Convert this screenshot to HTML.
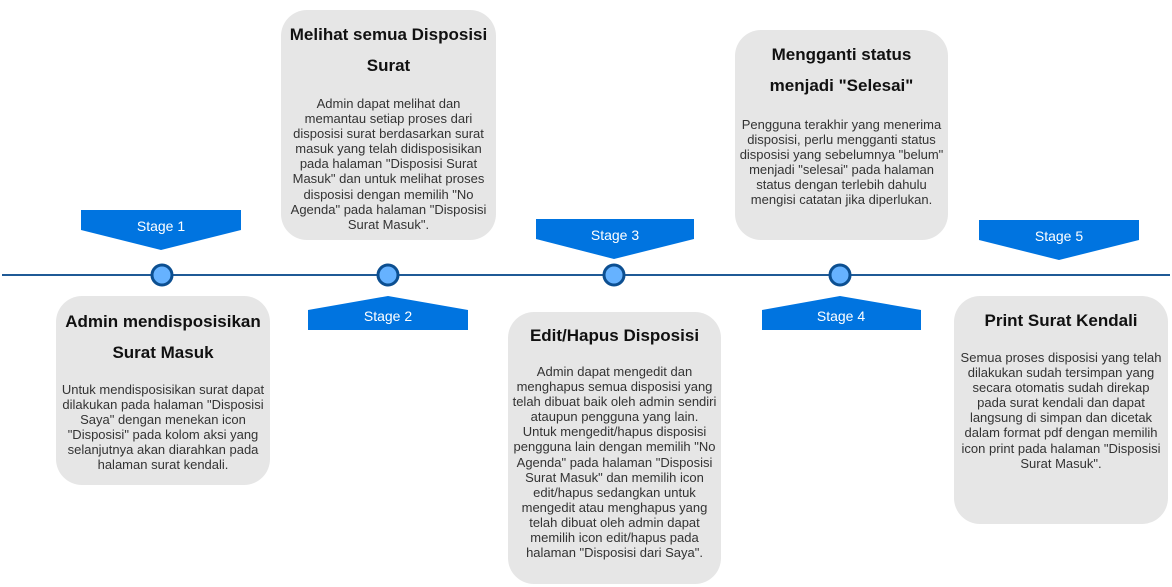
<!DOCTYPE html>
<html><head><meta charset="utf-8"><style>
body{margin:0;width:1172px;height:587px;background:#fff;position:relative;overflow:hidden;font-family:"Liberation Sans",Arial,sans-serif;}
.box{position:absolute;background:#e6e6e6;border-radius:26px;text-align:center;color:#222;}
.t{position:absolute;left:-10px;right:-10px;font-weight:bold;font-size:17px;line-height:31px;color:#111;}
.b{position:absolute;left:-10px;right:-10px;font-size:13px;line-height:15.1px;color:#333;}
.st{position:absolute;color:#fff;font-size:14px;text-align:center;width:160px;}
</style></head><body>
<svg width="1172" height="587" style="position:absolute;left:0;top:0">
<line x1="2" y1="275" x2="1170" y2="275" stroke="#1f5a96" stroke-width="2"/>
<polygon points="81,210 241,210 241,230 161,250 81,230" fill="#0074e0"/>
<polygon points="308,310 388,296 468,310 468,330 308,330" fill="#0074e0"/>
<polygon points="536,219 694,219 694,239 614,259 536,239" fill="#0074e0"/>
<polygon points="762,310 840,296 921,310 921,330 762,330" fill="#0074e0"/>
<polygon points="979,220 1139,220 1139,240 1059,260 979,240" fill="#0074e0"/>
<g fill="#66b2ff" stroke="#0c4f91" stroke-width="3">
<circle cx="162" cy="275" r="10"/><circle cx="388" cy="275" r="10"/><circle cx="614" cy="275" r="10"/><circle cx="840" cy="275" r="10"/>
</g>
</svg>
<div class="st" style="left:81px;top:218px">Stage 1</div>
<div class="st" style="left:308px;top:308px">Stage 2</div>
<div class="st" style="left:535px;top:227px">Stage 3</div>
<div class="st" style="left:761px;top:308px">Stage 4</div>
<div class="st" style="left:979px;top:228px">Stage 5</div>

<div class="box" style="left:56px;top:296px;width:214px;height:189px">
<div class="t" style="top:10px">Admin mendisposisikan<br>Surat Masuk</div>
<div class="b" style="top:86px">Untuk mendisposisikan surat dapat<br>dilakukan pada halaman "Disposisi<br>Saya" dengan menekan icon<br>"Disposisi" pada kolom aksi yang<br>selanjutnya akan diarahkan pada<br>halaman surat kendali.</div>
</div>
<div class="box" style="left:281px;top:10px;width:215px;height:230px">
<div class="t" style="top:9px">Melihat semua Disposisi<br>Surat</div>
<div class="b" style="top:86px">Admin dapat melihat dan<br>memantau setiap proses dari<br>disposisi surat berdasarkan surat<br>masuk yang telah didisposisikan<br>pada halaman "Disposisi Surat<br>Masuk" dan untuk melihat proses<br>disposisi dengan memilih "No<br>Agenda" pada halaman "Disposisi<br>Surat Masuk".</div>
</div>
<div class="box" style="left:508px;top:312px;width:213px;height:272px">
<div class="t" style="top:8px">Edit/Hapus Disposisi</div>
<div class="b" style="top:52px">Admin dapat mengedit dan<br>menghapus semua disposisi yang<br>telah dibuat baik oleh admin sendiri<br>ataupun pengguna yang lain.<br>Untuk mengedit/hapus disposisi<br>pengguna lain dengan memilih "No<br>Agenda" pada halaman "Disposisi<br>Surat Masuk" dan memilih icon<br>edit/hapus sedangkan untuk<br>mengedit atau menghapus yang<br>telah dibuat oleh admin dapat<br>memilih icon edit/hapus pada<br>halaman "Disposisi dari Saya".</div>
</div>
<div class="box" style="left:735px;top:30px;width:213px;height:210px">
<div class="t" style="top:9px">Mengganti status<br>menjadi "Selesai"</div>
<div class="b" style="top:87px">Pengguna terakhir yang menerima<br>disposisi, perlu mengganti status<br>disposisi yang sebelumnya "belum"<br>menjadi "selesai" pada halaman<br>status dengan terlebih dahulu<br>mengisi catatan jika diperlukan.</div>
</div>
<div class="box" style="left:954px;top:296px;width:214px;height:228px">
<div class="t" style="top:9px">Print Surat Kendali</div>
<div class="b" style="top:54px">Semua proses disposisi yang telah<br>dilakukan sudah tersimpan yang<br>secara otomatis sudah direkap<br>pada surat kendali dan dapat<br>langsung di simpan dan dicetak<br>dalam format pdf dengan memilih<br>icon print pada halaman "Disposisi<br>Surat Masuk".</div>
</div>
</body></html>
